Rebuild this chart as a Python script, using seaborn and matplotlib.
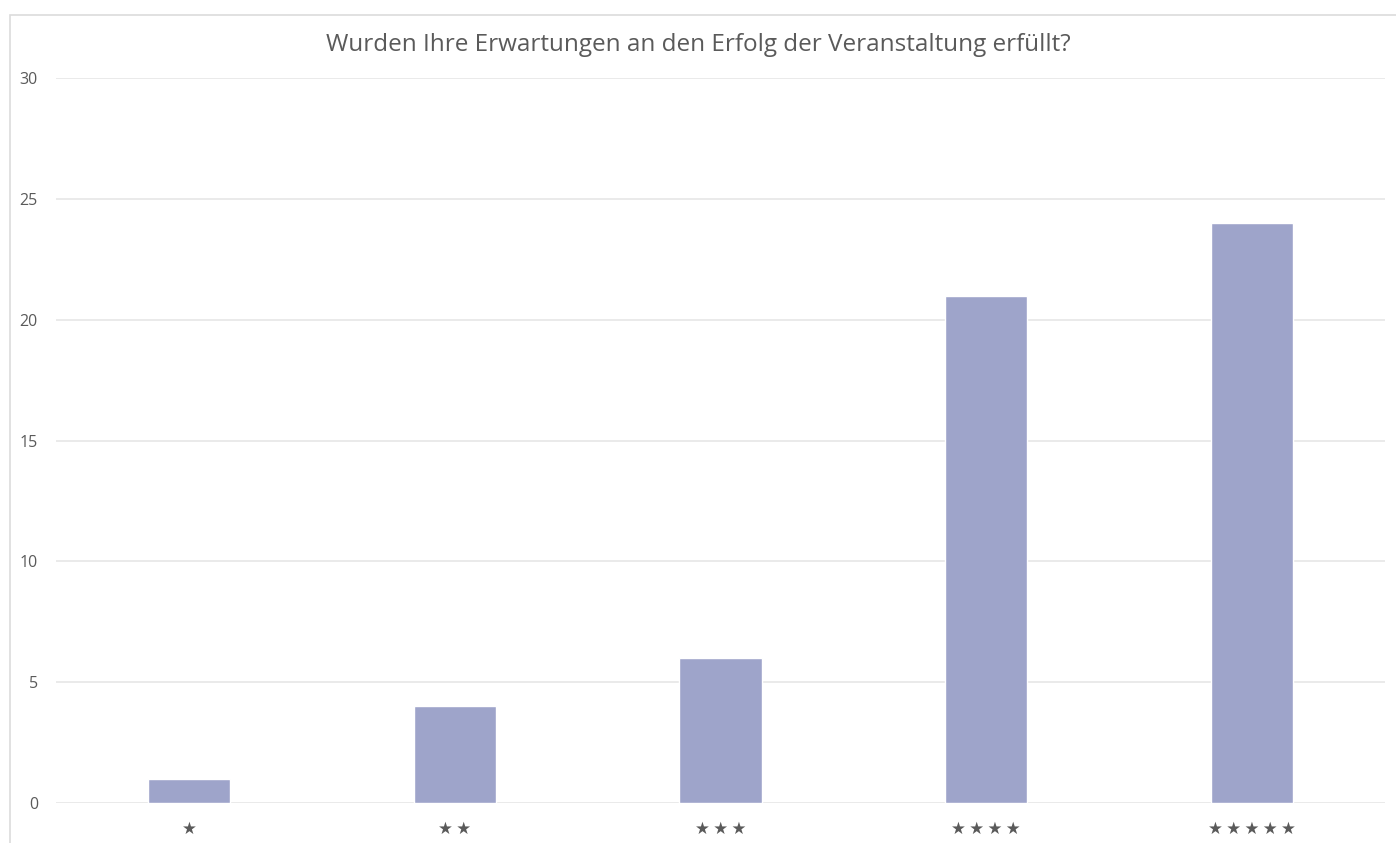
import matplotlib

matplotlib.use("Agg")
import matplotlib.pyplot as plt
import pandas as pd
import seaborn as sns
from matplotlib.patches import Rectangle

# ---- data -------------------------------------------------------------------
ratings = ["★", "★★", "★★★", "★★★★", "★★★★★"]
counts = [1, 4, 6, 21, 24]
y_ticks = [0, 5, 10, 15, 20, 25, 30]
title = "Wurden Ihre Erwartungen an den Erfolg der Veranstaltung erfüllt?"

BAR = "#9EA4CA"
TXT = "#5a5a5a"
GRID = "#e6e6e6"

sns.set_theme(style="white")
plt.rcParams["font.family"] = ["Open Sans", "DejaVu Sans"]

df = pd.DataFrame({"rating": ratings, "count": counts})

fig = plt.figure(figsize=(13.96, 8.43), dpi=100)
ax = fig.add_axes([56 / 1396, 1 - 803 / 843, (1385 - 56) / 1396, (803 - 78) / 843])

sns.barplot(data=df, x="rating", y="count", order=ratings, color=BAR,
            saturation=1, width=0.31, ax=ax, zorder=3)

ax.set_ylim(0, 30)
ax.set_xlim(-0.5, len(ratings) - 0.5)
ax.set_yticks(y_ticks)
ax.set_yticklabels([str(v) for v in y_ticks], fontsize=11.5, color=TXT)
ax.set_xticks(range(len(ratings)))
ax.set_xticklabels(["\u2009".join(r) for r in ratings], fontsize=12, color=TXT,
                   family=["DejaVu Sans"])
ax.tick_params(axis="y", length=0, pad=13)
ax.tick_params(axis="x", length=0, pad=12)
ax.set_xlabel("")
ax.set_ylabel("")
for sp in ax.spines.values():
    sp.set_visible(False)
ax.yaxis.grid(True, color=GRID, linewidth=1.2, zorder=0)
ax.set_axisbelow(True)

fig.text(0.5, 1 - 45 / 843, title, ha="center", va="center", fontsize=17.5, color=TXT)

# light frame (cropped on the right and bottom)
fig.patches.append(Rectangle((10 / 1396, -0.1), 1.2, 1 - 15 / 843 + 0.1,
                             transform=fig.transFigure, fill=False,
                             edgecolor="#dcdcdc", linewidth=1.2))

fig.savefig("out.png", dpi=100)
